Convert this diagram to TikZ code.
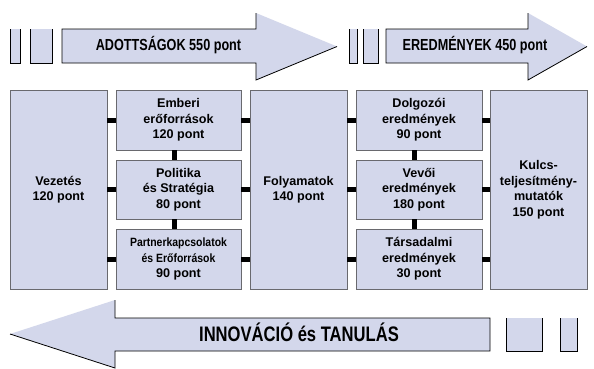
\documentclass[tikz,border=0pt]{standalone}
\usepackage{fontspec}
\setmainfont{Liberation Sans}
\newfontfamily\narrowfont{Liberation Sans}[FakeStretch=0.79]
\newfontfamily\semifont{Liberation Sans}[FakeStretch=0.87]
\usetikzlibrary{calc}
\definecolor{boxfill}{RGB}{211,215,235}
\definecolor{boxline}{RGB}{105,105,110}
\newcommand{\smalltxt}{\semifont\bfseries\fontsize{12}{15}\selectfont}
\tikzset{
  pbox/.style={draw=boxline, line width=0.9pt, fill=boxfill, inner sep=0pt, outer sep=0pt,
    align=center, font=\bfseries\fontsize{12.6}{15.5}\selectfont},
  link/.style={line width=5pt, black},
  edgeline/.style={line width=0.8pt, black},
  arrowtext/.style={font=\narrowfont\bfseries\fontsize{16}{18}\selectfont, anchor=base, inner sep=0pt},
  bigtext/.style={font=\narrowfont\bfseries\fontsize{21}{24}\selectfont, anchor=base, inner sep=0pt}
}
\begin{document}
\begin{tikzpicture}[x=1pt,y=-1pt]
\useasboundingbox[fill=white] (0,0) rectangle (594,368);

% ---- top arrow 1 ----
\fill[boxfill] (10,29) rectangle (20,63);
\draw[edgeline] (10,29) -- (10,63) -- (20,63) -- (20,29);
\fill[boxfill] (30,29) rectangle (52,63);
\draw[edgeline] (30,29) -- (30,63) -- (52,63) -- (52,29);
\fill[boxfill] (62,29) -- (256,29) -- (256,13) -- (337,46.5) -- (256,80) -- (256,63) -- (62,63) -- cycle;
\draw[edgeline] (337,46.5) -- (256,80) -- (256,63) -- (62,63) -- (62,29) -- (256,29) -- (256,13);
\node[arrowtext] (adott) at (168.5,50) {ADOTTSÁGOK 550 pont};

% ---- top arrow 2 ----
\fill[boxfill] (349,29) rectangle (357,63);
\draw[edgeline] (349,29) -- (349,63) -- (357,63) -- (357,29);
\fill[boxfill] (363,29) rectangle (378,63);
\draw[edgeline] (363,29) -- (363,63) -- (378,63) -- (378,29);
\fill[boxfill] (386,29) -- (528,29) -- (528,13) -- (587,46.5) -- (528,80) -- (528,63) -- (386,63) -- cycle;
\draw[edgeline] (587,46.5) -- (528,80) -- (528,63) -- (386,63) -- (386,29) -- (528,29) -- (528,13);
\node[arrowtext] (ered) at (475,50) {EREDMÉNYEK 450 pont};

% ---- bottom arrow ----
\fill[boxfill] (506,318) rectangle (542,351);
\draw[edgeline] (506,318) -- (506,351) -- (542,351) -- (542,318);
\fill[boxfill] (560,318) rectangle (577,351);
\draw[edgeline] (560,318) -- (560,351) -- (577,351) -- (577,318);
\fill[boxfill] (10,334) -- (115,300) -- (115,318) -- (490,318) -- (490,351) -- (115,351) -- (115,368) -- cycle;
\draw[edgeline] (115,300) -- (115,318) -- (490,318) -- (490,351) -- (115,351) -- (115,368) -- (10,334);
\node[bigtext] (innov) at (299,341.5) {INNOVÁCIÓ és TANULÁS};

% ---- boxes ----
\node[pbox, minimum width=97pt, minimum height=199pt] (vez) at (58.5,189.5) {Vezetés\\120 pont};
\node[pbox, minimum width=125pt, minimum height=60pt] (emb) at (178.5,120) {Emberi\\erőforrások\\120 pont};
\node[pbox, minimum width=125pt, minimum height=59pt] (pol) at (178.5,189.5) {Politika\\és Stratégia\\80 pont};
\node[pbox, minimum width=125pt, minimum height=60pt] (par) at (178.5,259) {{\smalltxt Partnerkapcsolatok}\\{\smalltxt és Erőforrások}\\90 pont};
\node[pbox, minimum width=97pt, minimum height=199pt] (fol) at (298.5,189.5) {Folyamatok\\140 pont};
\node[pbox, minimum width=126pt, minimum height=60pt] (dol) at (419,120) {Dolgozói\\eredmények\\90 pont};
\node[pbox, minimum width=126pt, minimum height=59pt] (vev) at (419,189.5) {Vevői\\eredmények\\180 pont};
\node[pbox, minimum width=126pt, minimum height=60pt] (tar) at (419,259) {Társadalmi\\eredmények\\30 pont};
\node[pbox, minimum width=97pt, minimum height=199pt] (kul) at (538.5,189.5) {Kulcs-\\teljesítmény-\\mutatók\\150 pont};

% ---- connectors ----
\foreach \b in {emb,pol,par}{
  \draw[link] (\b.west) -- (\b.west -| vez.east);
  \draw[link] (\b.east) -- (\b.east -| fol.west);
}
\foreach \b in {dol,vev,tar}{
  \draw[link] (\b.west) -- (\b.west -| fol.east);
  \draw[link] (\b.east) -- (\b.east -| kul.west);
}
\draw[link] ($(emb.south)+(-4.5,0)$) -- ($(pol.north)+(-4.5,0)$);
\draw[link] ($(pol.south)+(-4.5,0)$) -- ($(par.north)+(-4.5,0)$);
\draw[link] ($(dol.south)+(-4.5,0)$) -- ($(vev.north)+(-4.5,0)$);
\draw[link] ($(vev.south)+(-4.5,0)$) -- ($(tar.north)+(-4.5,0)$);
\end{tikzpicture}
\end{document}
